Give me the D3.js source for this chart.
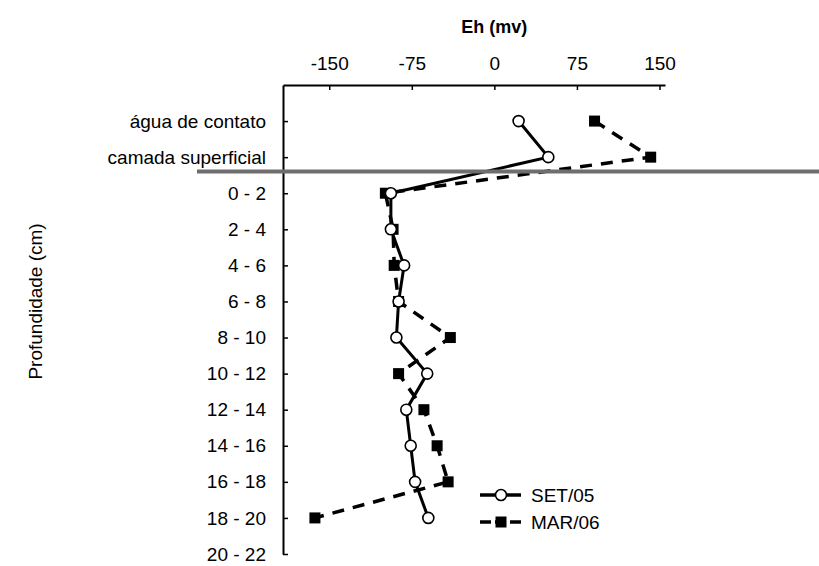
<!DOCTYPE html>
<html>
<head>
<meta charset="utf-8">
<script src="https://cdn.jsdelivr.net/npm/d3@7/dist/d3.min.js"></script>
<style>
  html, body { margin: 0; padding: 0; background: #fff; }
  svg { display: block; font-family: Arial, "Liberation Sans", Helvetica, sans-serif; }
</style>
</head>
<body>
<svg id="chart" width="819" height="566"></svg>
<script>
// Depth levels (top to bottom)
const depths = [
  "água de contato", "camada superficial",
  "0 - 2", "2 - 4", "4 - 6", "6 - 8", "8 - 10", "10 - 12",
  "12 - 14", "14 - 16", "16 - 18", "18 - 20", "20 - 22"
];

// Eh (mV) per depth level
const set05 = [22, 49, -94, -94, -82, -87, -89, -61, -80, -76, -72, -60];
const mar06 = [91, 142, -99, -92, -91, -87, -40, -87, -64, -52, -42, -163];

const ehTicks = [-150, -75, 0, 75, 150];
const seriesNames = ["SET/05", "MAR/06"];

const svg = d3.select("#chart");
const FS = 19;

const x = d3.scaleLinear().domain([-192, 155]).range([283, 665]);
const y = d3.scaleLinear().domain([-1, depths.length - 1]).range([85, 554]);

// Top axis (Eh)
const xAxis = d3.axisTop(x)
  .tickValues(ehTicks)
  .tickFormat(d3.format("d"))
  .tickSizeInner(-5)
  .tickSizeOuter(0)
  .tickPadding(15);

const gx = svg.append("g")
  .attr("transform", `translate(0,${y(-1)})`)
  .call(xAxis);
gx.select(".domain").attr("stroke", "#000").attr("stroke-width", 2);
gx.selectAll(".tick line").attr("stroke", "#000").attr("stroke-width", 1.5);
gx.selectAll(".tick text").attr("font-size", FS).attr("fill", "#000")
  .text(d => d < 0 ? "-" + Math.abs(d) : d);

// Left axis (depth)
const yAxis = d3.axisLeft(y)
  .tickValues(d3.range(depths.length))
  .tickFormat(i => depths[i])
  .tickSizeInner(-5)
  .tickSizeOuter(0)
  .tickPadding(17);

const gy = svg.append("g")
  .attr("transform", `translate(${x(-192)},0)`)
  .call(yAxis);
gy.select(".domain").attr("stroke", "#000").attr("stroke-width", 2);
gy.selectAll(".tick line").attr("stroke", "#000").attr("stroke-width", 1.5);
gy.selectAll(".tick text").attr("font-size", FS).attr("fill", "#000");

// Axis titles
svg.append("text")
  .attr("x", x(0)).attr("y", 33)
  .attr("text-anchor", "middle")
  .attr("font-size", 18).attr("font-weight", "bold")
  .text("Eh (mv)");

svg.append("text")
  .attr("transform", `translate(42,${y(5)}) rotate(-90)`)
  .attr("text-anchor", "middle")
  .attr("font-size", FS)
  .text("Profundidade (cm)");

// Series lines
const line = d3.line()
  .x(d => x(d[0]))
  .y(d => y(d[1]));

const marPts = mar06.map((v, i) => [v, i]);
const setPts = set05.map((v, i) => [v, i]);

svg.append("path")
  .datum(marPts)
  .attr("d", line)
  .attr("fill", "none")
  .attr("stroke", "#000")
  .attr("stroke-width", 3.5)
  .attr("stroke-dasharray", "12,9");

svg.append("path")
  .datum(setPts)
  .attr("d", line)
  .attr("fill", "none")
  .attr("stroke", "#000")
  .attr("stroke-width", 3);

// Water / sediment boundary
svg.append("line")
  .attr("x1", 197).attr("x2", 819)
  .attr("y1", y(1.4)).attr("y2", y(1.4))
  .attr("stroke", "#6e6e6e")
  .attr("stroke-width", 4);

// Markers
const sq = 11;
svg.append("g").selectAll("rect")
  .data(marPts)
  .join("rect")
  .attr("x", d => x(d[0]) - sq / 2)
  .attr("y", d => y(d[1]) - sq / 2)
  .attr("width", sq).attr("height", sq)
  .attr("fill", "#000");

svg.append("g").selectAll("circle")
  .data(setPts)
  .join("circle")
  .attr("cx", d => x(d[0]))
  .attr("cy", d => y(d[1]))
  .attr("r", 5.5)
  .attr("fill", "#fff")
  .attr("stroke", "#000")
  .attr("stroke-width", 1.6);

// Legend
const legend = svg.append("g");
const lx0 = 480, lx1 = 521, lmx = 501;
const ly = [495, 522];

legend.append("line")
  .attr("x1", lx0).attr("x2", lx1).attr("y1", ly[0]).attr("y2", ly[0])
  .attr("stroke", "#000").attr("stroke-width", 3.5);
legend.append("circle")
  .attr("cx", lmx).attr("cy", ly[0]).attr("r", 5.5)
  .attr("fill", "#fff").attr("stroke", "#000").attr("stroke-width", 1.6);

legend.append("line")
  .attr("x1", lx0).attr("x2", lx1).attr("y1", ly[1]).attr("y2", ly[1])
  .attr("stroke", "#000").attr("stroke-width", 3.5)
  .attr("stroke-dasharray", "11,4,11,4,11");
legend.append("rect")
  .attr("x", lmx - sq / 2).attr("y", ly[1] - sq / 2)
  .attr("width", sq).attr("height", sq).attr("fill", "#000");

legend.selectAll("text")
  .data(seriesNames)
  .join("text")
  .attr("x", 531)
  .attr("y", (d, i) => ly[i])
  .attr("dy", "0.35em")
  .attr("font-size", FS)
  .text(d => d);
</script>
</body>
</html>
